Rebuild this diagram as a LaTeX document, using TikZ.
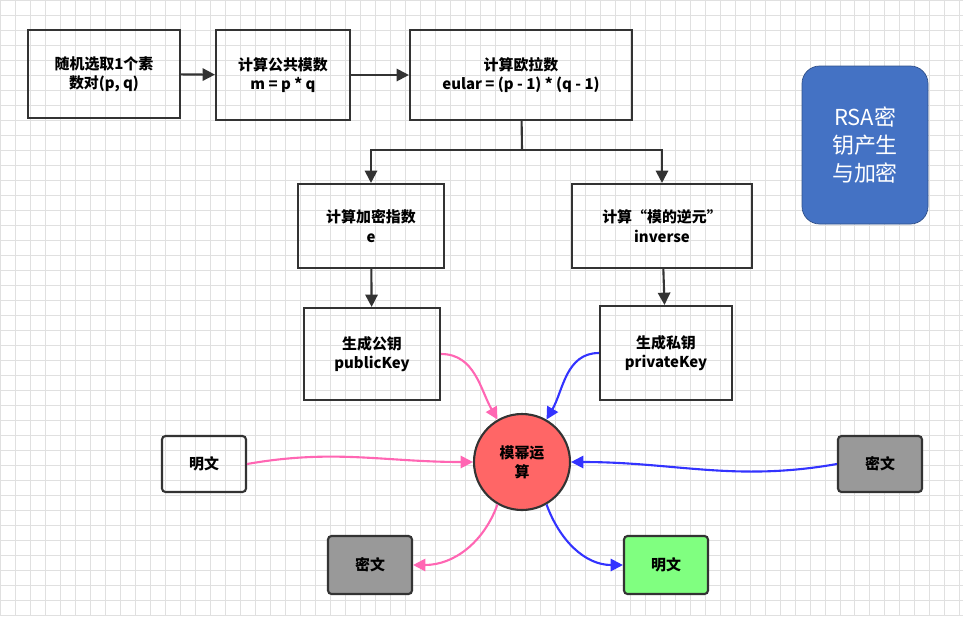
\documentclass[tikz,border=0pt]{standalone}
\usepackage{fontspec}
\setmainfont{Noto Sans CJK SC}
\usetikzlibrary{arrows.meta}
\definecolor{pinkline}{HTML}{FF66B3}
\definecolor{blueline}{HTML}{3333FF}
\definecolor{rsablue}{HTML}{4472C4}
\begin{document}
\begin{tikzpicture}[x=0.02cm,y=-0.02cm,
	box/.style={draw=black!80, line width=1.2pt, align=center, font=\fontsize{8.5}{11}\selectfont\bfseries, inner sep=2pt},
	flow/.style={-{Triangle[length=7pt,width=7pt]}, line width=1.2pt, black!80},
	pinkarrow/.style={-{Triangle[length=7pt,width=7pt]}, line width=1.2pt, pinkline},
	bluearrow/.style={-{Triangle[length=7pt,width=7pt]}, line width=1.2pt, blueline}]
		\useasboundingbox (0,0) rectangle (963,616);
		\draw[black!12, step=0.3cm] (0,0) grid (963,616);
		\node[box, minimum width=152*0.02cm, minimum height=88*0.02cm] (pq) at (104,74) {随机选取1个素\\数对(p, q)};
		\node[box, minimum width=134*0.02cm, minimum height=90*0.02cm] (modm) at (283,75) {计算公共模数\\m = p * q};
		\node[box, minimum width=222*0.02cm, minimum height=90*0.02cm] (eular) at (521,75) {计算欧拉数\\eular = (p - 1) * (q - 1)};
		\node[draw=rsablue!70!black, fill=rsablue, rounded corners=10pt, text=white, align=center, font=\fontsize{12.5}{16}\selectfont, minimum width=126*0.02cm, minimum height=158*0.02cm] (rsa) at (865,145) {RSA密\\钥产生\\与加密};
		\node[box, minimum width=146*0.02cm, minimum height=84*0.02cm] (expe) at (371,226) {计算加密指数\\e};
		\node[box, minimum width=180*0.02cm, minimum height=84*0.02cm] (inv) at (662,226) {计算“模的逆元”\\inverse};
		\node[box, minimum width=136*0.02cm, minimum height=92*0.02cm] (pub) at (372,354) {生成公钥\\publicKey};
		\node[box, minimum width=132*0.02cm, minimum height=94*0.02cm] (priv) at (666,353) {生成私钥\\privateKey};
		\node[box, circle, fill=red!60, minimum size=96*0.02cm] (modpow) at (522,462) {模幂运\\算};
		\node[box, rounded corners=2pt, minimum width=84*0.02cm, minimum height=56*0.02cm] (plain1) at (204,464) {明文};
		\node[box, rounded corners=2pt, fill=black!40, minimum width=84*0.02cm, minimum height=56*0.02cm] (cipher1) at (880,464) {密文};
		\node[box, rounded corners=2pt, fill=black!40, minimum width=84*0.02cm, minimum height=58*0.02cm] (cipher2) at (370,565) {密文};
		\node[box, rounded corners=2pt, fill=green!100!cyan!50, minimum width=84*0.02cm, minimum height=58*0.02cm] (plain2) at (666,565) {明文};
		\coordinate (split) at (522,150);
		\draw[flow] (pq) -- (modm);
		\draw[flow] (modm) -- (eular);
		\draw[line width=1.2pt, black!80] (eular) -- (split);
		\draw[flow] (split) -| (expe);
		\draw[flow] (split) -| (inv);
		\draw[flow] (expe) -- (pub);
		\draw[flow] (inv) -- (priv);
		\draw[pinkarrow] (pub.east) to[out=0, in=120] (modpow.120);
		\draw[bluearrow] (priv.west) to[out=180, in=60] (modpow.60);
		\draw[pinkarrow] (plain1.east) to[out=10, in=180] (modpow.west);
		\draw[bluearrow] (cipher1.west) to[out=190, in=0] (modpow.east);
		\draw[pinkarrow] (modpow.240) to[out=250, in=0] (cipher2.east);
		\draw[bluearrow] (modpow.300) to[out=290, in=180] (plain2.west);
\end{tikzpicture}
\end{document}
